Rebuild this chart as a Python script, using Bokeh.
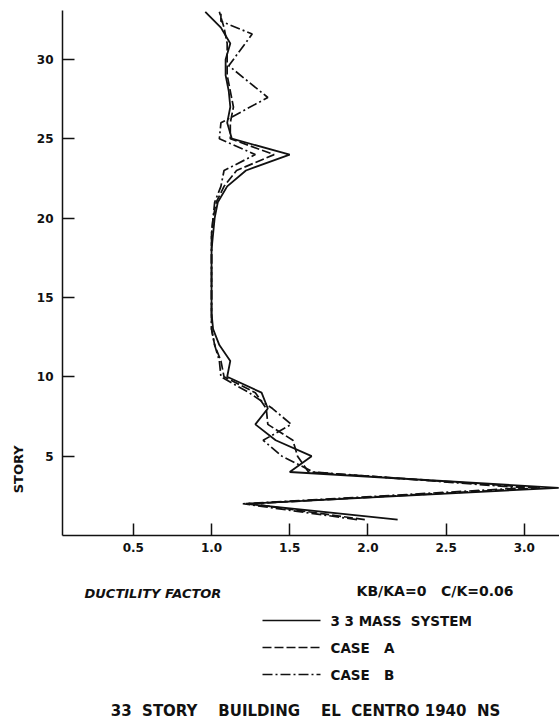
import math
from bokeh.plotting import figure
from bokeh.models import Range1d, Label, FixedTicker
from bokeh.layouts import column, row
from bokeh.embed import file_html
from bokeh.resources import INLINE

# ---------------- data ----------------
stories_mass = [1, 2, 3, 4, 5, 6, 7, 8, 9, 10, 11, 12, 13, 14, 15, 16, 17, 18, 19, 20,
                21, 22, 23, 24, 25, 26, 27, 28, 29, 30, 31, 32, 33]
ductility_mass = [2.19, 1.22, 3.22, 1.50, 1.64, 1.41, 1.28, 1.36, 1.32, 1.10, 1.12, 1.05, 1.01,
                  1.00, 1.00, 1.00, 1.00, 1.00, 1.01, 1.02, 1.04, 1.10, 1.22, 1.50, 1.13,
                  1.10, 1.12, 1.11, 1.09, 1.09, 1.12, 1.06, 0.96]

stories_case_a = [1, 2, 3, 4, 5, 6, 7, 8, 9, 10, 11, 12, 13, 14, 15, 16, 17, 18, 19, 20,
                  21, 22, 23, 24, 25, 26, 27, 28, 29, 30, 31, 32, 33]
ductility_case_a = [1.98, 1.25, 3.10, 1.62, 1.55, 1.52, 1.36, 1.35, 1.28, 1.08, 1.06, 1.02, 1.00,
                    1.00, 1.00, 1.00, 1.00, 1.00, 1.00, 1.01, 1.03, 1.08, 1.16, 1.40, 1.12,
                    1.12, 1.14, 1.12, 1.10, 1.10, 1.10, 1.08, 1.05]

stories_case_b = [1, 2, 3, 4, 5, 6, 7, 8, 9, 10, 11, 12, 13, 14, 15, 16, 17, 18, 19, 20,
                  21, 22, 23, 24, 25, 26, 27.6, 29.6, 31.6, 32.4, 33]
ductility_case_b = [1.93, 1.20, 3.00, 1.65, 1.45, 1.33, 1.51, 1.39, 1.24, 1.06, 1.05, 1.02, 1.00,
                    1.00, 1.00, 1.00, 1.00, 1.00, 1.00, 1.01, 1.02, 1.06, 1.08, 1.28, 1.05,
                    1.06, 1.36, 1.11, 1.26, 1.06, 1.06]

x_ticks = [0.5, 1.0, 1.5, 2.0, 2.5, 3.0]
x_tick_labels = ["0.5", "1.0", "1.5", "2.0", "2.5", "3.0"]
y_ticks = [5, 10, 15, 20, 25, 30]
y_tick_labels = ["5", "10", "15", "20", "25", "30"]

NB = "\u00a0"
series_names = ["3" + NB + "3" + NB + "MASS" + NB * 2 + "SYSTEM",
                "CASE" + NB * 3 + "A",
                "CASE" + NB * 3 + "B"]
series_dash = ["solid", "9 3", "10 3 2 3"]
x_title = "DUCTILITY" + NB + "FACTOR"
y_title = "STORY"
params_text = "KB/KA=0" + NB * 3 + "C/K=0.06"
chart_title = ("33" + NB * 2 + "STORY" + NB * 4 + "BUILDING" + NB * 4 + "EL" + NB * 2
               + "CENTRO" + NB + "1940" + NB * 2 + "NS")

FONT = "DejaVu Sans"
INK = "#111111"

# ---------------- left strip with the vertical axis title ----------------
strip = figure(width=30, height=563, x_range=Range1d(0, 30), y_range=Range1d(563, 0),
               x_axis_type=None, y_axis_type=None, output_backend="svg",
               toolbar_location=None, min_border=0)
strip.outline_line_color = None
strip.grid.visible = False
strip.add_layout(Label(x=18, y=492, text=y_title, angle=math.pi / 2,
                       text_align="center", text_baseline="middle",
                       text_font=FONT, text_font_style="bold", text_font_size="13px",
                       text_color=INK))

# ---------------- main plot ----------------
p = figure(width=529, height=563,
           x_range=Range1d(0.047, 3.225), y_range=Range1d(0, 33.08),
           output_backend="svg", toolbar_location=None,
           min_border_left=32, min_border_right=0, min_border_top=10, min_border_bottom=28)
p.outline_line_color = None
p.grid.visible = False

p.xaxis.ticker = FixedTicker(ticks=x_ticks)
p.xaxis.major_label_overrides = {t: l for t, l in zip(x_ticks, x_tick_labels)}
p.yaxis.ticker = FixedTicker(ticks=y_ticks)
p.yaxis.major_label_overrides = {t: l for t, l in zip(y_ticks, y_tick_labels)}
for ax in (p.xaxis, p.yaxis):
    ax.major_tick_in = 12
    ax.major_tick_out = 0
    ax.minor_tick_line_color = None
    ax.axis_line_color = INK
    ax.axis_line_width = 1.5
    ax.major_tick_line_color = INK
    ax.major_tick_line_width = 1.5
    ax.major_label_text_font = FONT
    ax.major_label_text_font_style = "bold"
    ax.major_label_text_font_size = "12px"
    ax.major_label_text_color = INK
p.xaxis.major_label_standoff = 7
p.yaxis.major_label_standoff = 9

p.line(ductility_mass, stories_mass, line_color=INK, line_width=1.8, line_dash=series_dash[0])
p.line(ductility_case_a, stories_case_a, line_color=INK, line_width=1.7, line_dash=series_dash[1])
p.line(ductility_case_b, stories_case_b, line_color=INK, line_width=1.7, line_dash=series_dash[2])

# ---------------- lower panel: axis title, key and caption ----------------
q = figure(width=559, height=160, x_range=Range1d(0, 559), y_range=Range1d(160, 0),
           x_axis_type=None, y_axis_type=None, output_backend="svg", toolbar_location=None,
           min_border=0)
q.outline_line_color = None
q.grid.visible = False

key_rows = [57, 84, 111]
for name, dash, ky in zip(series_names, series_dash, key_rows):
    q.line([262, 320], [ky, ky], line_color=INK, line_width=1.3, line_dash=dash)
    q.add_layout(Label(x=330, y=ky, text=name, text_align="left", text_baseline="middle",
                       text_font=FONT, text_font_style="bold", text_font_size="13.5px",
                       text_color=INK))

q.add_layout(Label(x=84, y=30, text=x_title, text_align="left", text_baseline="middle",
                   text_font=FONT, text_font_style="bold italic", text_font_size="13px",
                   text_color=INK))
q.add_layout(Label(x=513, y=27, text=params_text, text_align="right", text_baseline="middle",
                   text_font=FONT, text_font_style="bold", text_font_size="14px",
                   text_color=INK))
q.add_layout(Label(x=305, y=147, text=chart_title, text_align="center", text_baseline="middle",
                   text_font=FONT, text_font_style="bold", text_font_size="15px",
                   text_color=INK))

layout = column(row(strip, p, spacing=0), q, spacing=0)
open("out.html", "w").write(file_html(layout, INLINE))
